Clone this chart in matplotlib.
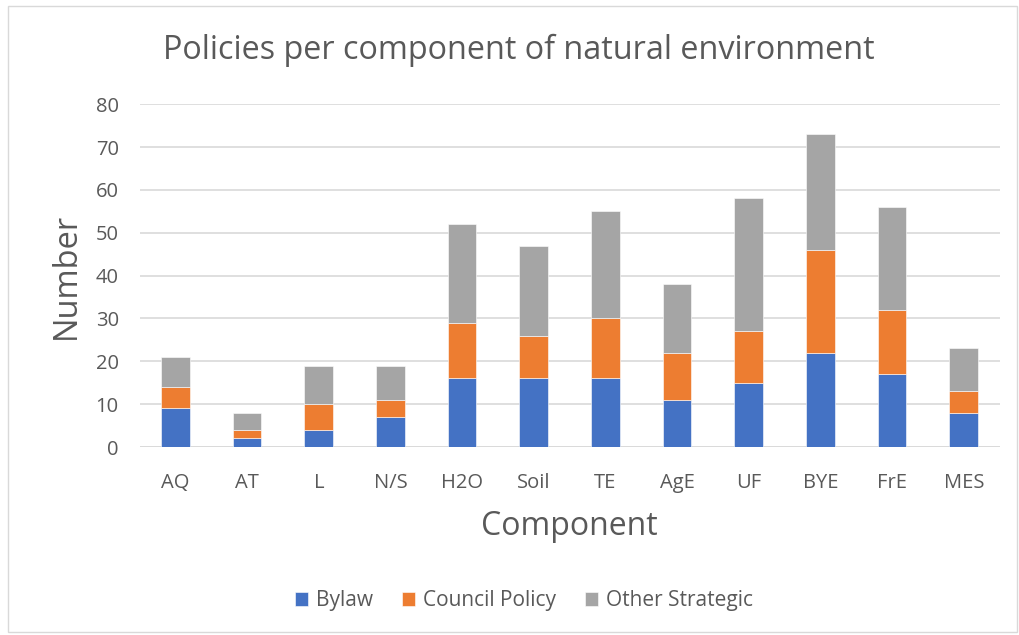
import matplotlib.pyplot as plt
import numpy as np
from matplotlib.patches import Rectangle

categories = ["AQ", "AT", "L", "N/S", "H2O", "Soil", "TE", "AgE", "UF", "BYE", "FrE", "MES"]
bylaw = [9, 2, 4, 7, 16, 16, 16, 11, 15, 22, 17, 8]
council = [5, 2, 6, 4, 13, 10, 14, 11, 12, 24, 15, 5]
other = [7, 4, 9, 8, 23, 21, 25, 16, 31, 27, 24, 10]
yticks = [0, 10, 20, 30, 40, 50, 60, 70, 80]

txt = "#595959"
plt.rcParams['font.family'] = ['Open Sans', 'DejaVu Sans']

fig = plt.figure(figsize=(10.19, 6.35), dpi=100)
ax = fig.add_axes([0.137, 0.296, 0.844, 0.54])

x = np.arange(len(categories))
w = 0.4
bylaw = np.array(bylaw)
council = np.array(council)
other = np.array(other)
ax.bar(x, bylaw, w, color="#4472C4", label="Bylaw", zorder=3, edgecolor="white", linewidth=0.4)
ax.bar(x, council, w, bottom=bylaw, color="#ED7D31", label="Council Policy", zorder=3, edgecolor="white", linewidth=0.4)
ax.bar(x, other, w, bottom=bylaw + council, color="#A5A5A5", label="Other Strategic", zorder=3, edgecolor="white", linewidth=0.4)

ax.set_xlim(-0.5, len(categories) - 0.5)
ax.set_ylim(0, 80)
ax.set_yticks(yticks)
ax.set_xticks(x)
ax.set_xticklabels(categories)
ax.yaxis.grid(True, color="#D9D9D9", linewidth=1.2, zorder=0)
ax.tick_params(length=0, labelsize=14.5, colors=txt)
ax.tick_params(axis="x", pad=19)
ax.tick_params(axis="y", pad=15)
for s in ax.spines.values():
    s.set_visible(False)
ax.axhline(0, color="#D9D9D9", linewidth=1.2, zorder=2)

ax.set_xlabel("Component", fontsize=23, color=txt, labelpad=12)
ax.set_ylabel("Number", fontsize=23.5, color=txt, labelpad=9)
fig.text(0.16, 0.92, "Policies per component of natural environment", fontsize=23.3, color=txt, va="center", ha="left")

leg = fig.legend(loc="center", bbox_to_anchor=(0.514, 0.054), ncol=3, frameon=False,
                 fontsize=15, handlelength=0.65, handleheight=0.65, columnspacing=1.4, handletextpad=0.35)
for t in leg.get_texts():
    t.set_color(txt)

fig.patches.append(Rectangle((0.008, 0.005), 0.99, 0.985, transform=fig.transFigure,
                             fill=False, edgecolor="#D9D9D9", linewidth=1))

fig.savefig("out.png", dpi=100)
